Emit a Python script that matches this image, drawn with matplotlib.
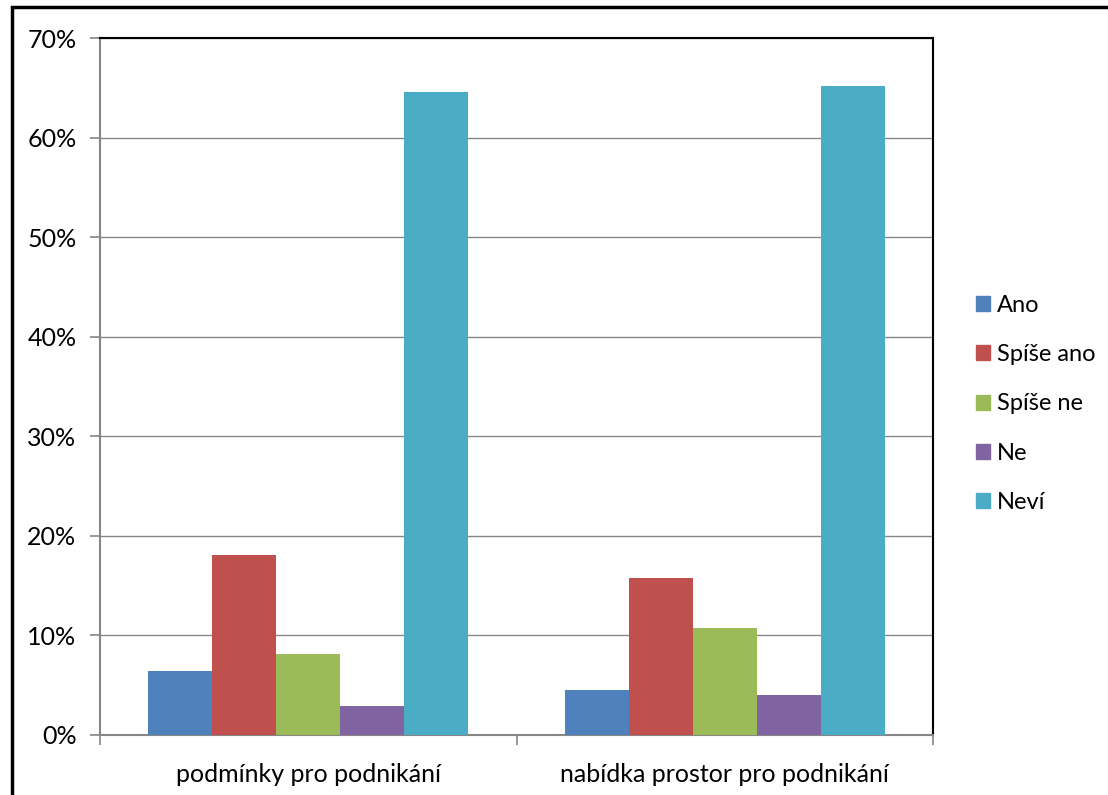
import matplotlib.pyplot as plt
import numpy as np
from matplotlib.patches import Rectangle, Patch

plt.rcParams["font.family"] = ["Lato", "DejaVu Sans"]

categories = ["podmínky pro podnikání", "nabídka prostor pro podnikání"]
series = ["Ano", "Spíše ano", "Spíše ne", "Ne", "Neví"]
values = {
    "Ano": [6.4, 4.5],
    "Spíše ano": [18.1, 15.8],
    "Spíše ne": [8.1, 10.7],
    "Ne": [2.9, 4.0],
    "Neví": [64.6, 65.2],
}
colors = ["#4F81BD", "#C0504D", "#9BBB59", "#8064A2", "#4BACC6"]

W, H = 1108, 795
fig = plt.figure(figsize=(W / 100, H / 100), dpi=100)
ax = fig.add_axes([100 / W, 1 - 735 / H, (933 - 100) / W, (735 - 38) / H])

x = np.arange(len(categories))
width = 64 / 417
for i, (name, color) in enumerate(zip(series, colors)):
    offset = (i - 2) * width
    ax.bar(x + offset, values[name], width, color=color, label=name, zorder=3)

ax.set_xlim(-0.5, 1.5)
ax.set_ylim(0, 70)
ax.set_yticks(range(0, 71, 10))
ax.set_yticklabels([f"{v}%" for v in range(0, 71, 10)], fontsize=18)
ax.yaxis.grid(True, color="#868686", linewidth=1, zorder=0)

# category labels sit between tick marks at the group boundaries
ax.set_xticks([-0.5, 0.5, 1.5])
ax.set_xticklabels([])
ax.set_xticks(x, minor=True)
ax.set_xticklabels(categories, minor=True, fontsize=18)
ax.tick_params(axis="x", which="minor", length=0, pad=20)
ax.tick_params(axis="x", which="major", length=7, color="#868686", width=1.2)
ax.tick_params(axis="y", length=7, color="#868686", width=1.2, pad=10)

for side in ("left", "bottom"):
    ax.spines[side].set_color("#868686")
    ax.spines[side].set_linewidth(1.5)
for side in ("top", "right"):
    ax.spines[side].set_color("black")
    ax.spines[side].set_linewidth(1.5)

handles = [Patch(color=c, label=s) for s, c in zip(series, colors)]
fig.legend(handles=handles, loc="center left", bbox_to_anchor=(976 / W, 1 - 404 / H),
           frameon=False, fontsize=17, handlelength=0.6, handleheight=0.6,
           handletextpad=0.3, labelspacing=1.2, borderpad=0, borderaxespad=0)

fig.patches.append(Rectangle((12 / W, -0.1), 1.2, 1.1 - 7 / H, transform=fig.transFigure,
                             fill=False, edgecolor="black", linewidth=2.5))

fig.savefig("out.png", dpi=100)
